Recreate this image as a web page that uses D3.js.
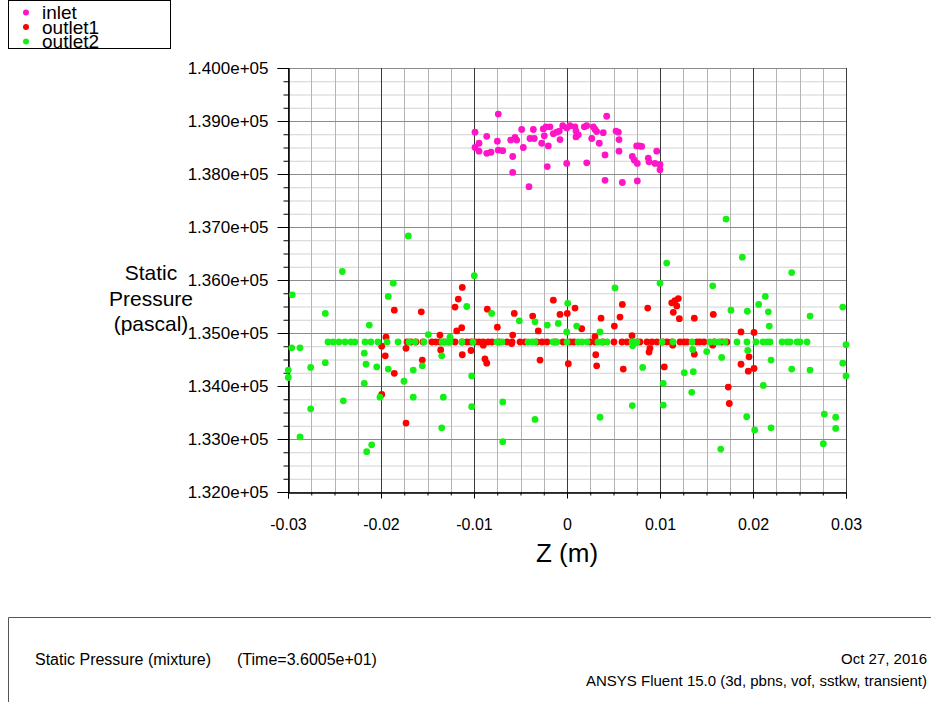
<!DOCTYPE html>
<html><head><meta charset="utf-8">
<script src="https://cdn.jsdelivr.net/npm/d3@7"></script>
<style>
body{margin:0;background:#fff;}
svg{display:block;font-family:"Liberation Sans",Arial,sans-serif;}
</style></head>
<body>
<svg id="chart" width="931" height="702"></svg>
<script>
// ---- data (Z in m, static pressure in Pa) ----
const seriesNames = ["inlet", "outlet1", "outlet2"];
const seriesColors = ["#ff14c8", "#ff0000", "#14f014"];

const inletZ = [-0.00989,-0.00739,-0.00989,-0.00946,-0.00946,-0.00863,-0.00863,-0.00817,-0.00749,-0.00739,-0.00691,-0.00584,-0.00584,-0.00605,-0.00559,-0.00541,-0.00487,-0.00470,-0.00409,-0.00398,-0.00362,-0.00352,-0.00272,-0.00255,-0.00244,-0.00226,-0.00201,-0.00212,-0.00183,-0.00147,-0.00111,-0.00083,-0.00075,-0.00046,-0.00003,-0.00003,0.00032,0.00086,0.00097,0.00122,0.00097,0.00186,0.00212,0.00212,0.00266,0.00283,0.00301,0.00319,0.00347,0.00390,0.00409,0.00427,0.00409,0.00527,0.00552,0.00559,0.00559,0.00595,0.00749,0.00777,0.00803,0.00702,0.00724,0.00756,0.00756,0.00874,0.00882,0.00965,0.00946,0.01000,0.01000];
const inletP = [138790,139130,138500,138580,138430,138710,138390,138410,138620,138450,138440,138330,138030,138640,138690,138640,138840,138500,137760,138670,138840,138670,138580,138850,138720,138890,138530,138140,138890,138760,138790,138810,138650,138910,138870,138200,138910,138890,138810,138740,138700,138890,138910,138210,138670,138890,138840,138800,138580,138780,138360,139090,137880,138810,138790,138650,138430,137840,138530,138530,138520,138330,138260,138200,137870,138300,138230,138430,138200,138180,138080];

const outlet1Z = [-0.01720,-0.01677,-0.01624,-0.01548,-0.01452,-0.01409,-0.01366,-0.01323,-0.01269,-0.01204,-0.01129,-0.01075,-0.01032,-0.00989,-0.00946,-0.00903,-0.00849,-0.00806,-0.00731,-0.00645,-0.00591,-0.00505,-0.00452,-0.00323,-0.00269,-0.00215,-0.00129,-0.00043,0.00032,0.00075,0.00247,0.00301,0.00387,0.00505,0.00591,0.00645,0.00753,0.00785,0.00860,0.00914,0.00968,0.01032,0.01075,0.01129,0.01215,0.01258,0.01290,0.01398,0.01430,0.01473,0.01581,0.01667,0.01720,
 -0.01126,-0.01169,-0.01204,-0.01857,-0.01567,-0.01186,-0.01132,-0.01366,-0.01992,-0.01731,-0.01946,-0.01954,-0.01857,-0.01556,-0.01358,-0.01126,-0.01032,-0.01992,-0.01731,-0.00857,-0.00749,-0.00567,-0.00369,-0.00309,-0.00147,-0.00075,0.00003,0.00086,0.00158,0.00366,0.00509,0.00570,0.00595,0.00868,0.00301,0.00699,-0.00584,-0.00900,-0.00595,-0.00882,-0.00863,-0.00290,0.00014,0.00309,0.00319,0.00605,0.00892,0.00882,0.01046,0.01197,0.01161,0.01126,0.01180,0.01143,0.01208,0.01369,0.01573,0.01871,0.02011,0.01369,0.01871,0.01957,0.01949,0.02011,0.01734,0.01745,0.01137,0.01567];
const outlet1P = [134830,134830,134830,134830,134830,134830,134830,134830,134830,134830,134830,134830,134830,134830,134830,134830,134830,134830,134830,134830,134830,134830,134830,134830,134830,134830,134830,134830,134830,134830,134830,134830,134830,134830,134830,134830,134830,134830,134830,134830,134830,134830,134830,134830,134830,134830,134830,134830,134830,134830,134830,134830,134830,
 135860,135640,135490,135430,135400,135040,135100,134960,134750,134710,134920,134570,134240,134490,134680,134590,134670,133840,133300,135450,135110,135370,135320,135040,135620,135350,135370,135470,135080,135280,135130,135300,135540,135470,134930,134950,134960,134770,134800,134510,134430,134490,134420,134590,134380,134320,134710,134640,134360,135650,135610,135570,135510,135390,135270,135280,135350,135020,135010,134600,134410,134550,134280,134330,133980,133670,134770,134770];

const outlet2Z = [-0.02570,-0.02516,-0.02452,-0.02387,-0.02323,-0.02280,-0.02172,-0.02108,-0.02032,-0.01935,-0.01817,-0.01699,-0.01634,-0.01538,-0.01344,-0.01301,-0.01258,-0.01129,-0.01011,-0.00753,-0.00699,-0.00419,-0.00376,-0.00344,-0.00151,-0.00108,0.00000,0.00118,0.00161,0.00215,0.00333,0.00376,0.00430,0.00699,0.00710,0.00753,0.01022,0.01140,0.01344,0.01538,0.01591,0.01634,0.01699,0.01828,0.01935,0.02032,0.02108,0.02151,0.02183,0.02312,0.02366,0.02398,0.02473,0.02505,0.02581,
 -0.02954,-0.01706,-0.02416,-0.01868,-0.01922,-0.02599,-0.02126,-0.00997,-0.01078,-0.01491,-0.01258,-0.02960,-0.02871,-0.02997,-0.02997,-0.02756,-0.02599,-0.02180,-0.02161,-0.02046,-0.02180,-0.01922,-0.01753,-0.01653,-0.01556,-0.01347,-0.01653,-0.01330,-0.01025,-0.01025,-0.02011,-0.02405,-0.02756,-0.02871,-0.01347,-0.02100,-0.02154,-0.00810,-0.00513,-0.00344,-0.00212,-0.00094,0.00008,-0.00003,0.00104,0.00355,0.00516,0.01000,0.01072,-0.00691,-0.00691,-0.00344,0.00355,0.00702,0.00814,0.01035,0.01035,0.00706,0.01710,0.01885,0.02416,0.01567,0.02132,0.02061,0.01763,0.01939,0.02165,0.02613,0.02965,0.02175,0.03000,0.01352,0.01502,0.01663,0.01943,0.02194,0.02416,0.02613,0.02965,0.03000,0.01261,0.01358,0.01341,0.02111,0.01932,0.02018,0.02194,0.02767,0.02889,0.02889,0.02756,0.01653];
const outlet2P = [134830,134830,134830,134830,134830,134830,134830,134830,134830,134830,134830,134830,134830,134830,134830,134830,134830,134830,134830,134830,134830,134830,134830,134830,134830,134830,134830,134830,134830,134830,134830,134830,134830,134830,134830,134830,134830,134830,134830,134830,134830,134830,134830,134830,134830,134830,134830,134830,134830,134830,134830,134830,134830,134830,134830,
 135720,136830,136160,135940,135690,135370,135150,136080,135500,134970,134920,134720,134720,134300,134160,134350,134440,134620,134410,134360,134050,134320,134090,134300,134380,134570,133790,133790,134190,133610,133790,133720,133570,133040,133210,132890,132760,135370,135230,135210,135150,135180,135560,135020,135130,135020,135850,135940,136320,133700,132950,133370,133410,133630,134350,134050,133640,134760,137150,136430,136140,135890,135690,135540,135430,135410,135400,135320,135490,135130,134780,134690,134650,134540,134670,134490,134320,134300,134430,134190,134250,134270,133880,134010,133420,133170,133210,133470,133410,133200,132910,132810];

const xTicks = [-0.03,-0.02,-0.01,0,0.01,0.02,0.03];
const yTicks = [132000,133000,134000,135000,136000,137000,138000,139000,140000];
const xLabel = "Z (m)";
const yLabelLines = ["Static", "Pressure", "(pascal)"];
const footerLeftParts = ["Static Pressure (mixture)", "(Time=3.6005e+01)"];
const footerDate = "Oct 27, 2016";
const footerProduct = "ANSYS Fluent 15.0 (3d, pbns, vof, sstkw, transient)";

// ---- drawing ----
const svg = d3.select("#chart");
const x = d3.scaleLinear().domain([-0.03, 0.03]).range([288, 846]);
const y = d3.scaleLinear().domain([132000, 140000]).range([492, 68]);

const xMinor = d3.range(-0.03, 0.03001, 0.0025).map(v => +v.toFixed(4));
const yMinor = d3.range(132000, 140001, 250);

const fmtY = v => { const s = d3.format(".3e")(v); return s.replace(/e([+-])(\d)$/, "e$10$2"); };
const fmtX = v => (v === 0 ? "0" : d3.format(".2f")(v).replace("\u2212", "-"));

const grid = svg.append("g");
// minor grid
grid.selectAll("line.hmin").data(yMinor).join("line")
  .attr("x1", x(-0.03)).attr("x2", x(0.03))
  .attr("y1", d => y(d) + 0.5).attr("y2", d => y(d) + 0.5)
  .attr("stroke", "#d2d2d2").attr("stroke-width", 1);
grid.selectAll("line.vmin").data(xMinor).join("line")
  .attr("y1", y(140000)).attr("y2", y(132000))
  .attr("x1", d => Math.round(x(d)) + 0.5).attr("x2", d => Math.round(x(d)) + 0.5)
  .attr("stroke", "#b4b4b4").attr("stroke-width", 1);
// major grid
grid.selectAll("line.hmaj").data(yTicks).join("line")
  .attr("x1", x(-0.03)).attr("x2", x(0.03))
  .attr("y1", d => y(d) + 0.5).attr("y2", d => y(d) + 0.5)
  .attr("stroke", "#8c8c8c").attr("stroke-width", 1);
grid.selectAll("line.vmaj").data(xTicks).join("line")
  .attr("y1", y(140000)).attr("y2", y(132000))
  .attr("x1", d => Math.round(x(d)) + 0.5).attr("x2", d => Math.round(x(d)) + 0.5)
  .attr("stroke", "#3a3a3a").attr("stroke-width", 1);

// axes
const yAxisMinor = d3.axisLeft(y).tickValues(yMinor).tickSize(5).tickFormat("");
const yAxis = d3.axisLeft(y).tickValues(yTicks).tickSize(11).tickPadding(9).tickFormat(fmtY);
const xAxisMinor = d3.axisBottom(x).tickValues(xMinor).tickSize(3).tickFormat("");
const xAxis = d3.axisBottom(x).tickValues(xTicks).tickSize(6).tickPadding(20).tickFormat(fmtX);

function styleAxis(size) {
  return g => {
    g.select(".domain").attr("stroke", "#000");
    g.selectAll(".tick line").attr("stroke", "#000");
    g.selectAll("text").attr("fill", "#000").style("font-size", size + "px")
      .style("font-family", '"Liberation Sans", Arial, sans-serif');
  };
}
svg.append("g").attr("transform", "translate(288.5,0)").call(yAxisMinor).call(styleAxis(16));
svg.append("g").attr("transform", "translate(288.5,0)").call(yAxis).call(styleAxis(17));
svg.append("g").attr("transform", "translate(0,492.5)").call(xAxisMinor).call(styleAxis(16));
svg.append("g").attr("transform", "translate(0,492.5)").call(xAxis).call(styleAxis(16));

// points
const series = [
  {name: seriesNames[0], color: seriesColors[0], z: inletZ, p: inletP},
  {name: seriesNames[1], color: seriesColors[1], z: outlet1Z, p: outlet1P},
  {name: seriesNames[2], color: seriesColors[2], z: outlet2Z, p: outlet2P}
];
series.forEach(s => {
  const pts = s.z.map((z, i) => ({z, p: s.p[i]}));
  svg.append("g").selectAll("circle").data(pts).join("circle")
    .attr("cx", d => x(d.z)).attr("cy", d => y(d.p)).attr("r", 3.4)
    .attr("fill", s.color);
});

// axis titles
svg.append("text").attr("x", x(0)).attr("y", 562).attr("text-anchor", "middle")
  .style("font-size", "26px").text(xLabel);
svg.append("g").selectAll("text").data(yLabelLines).join("text")
  .attr("x", 151).attr("y", (d, i) => 280 + i * 25.5).attr("text-anchor", "middle")
  .style("font-size", "21px").text(d => d);

// legend
const leg = svg.append("g");
leg.append("rect").attr("x", 8.5).attr("y", 0.5).attr("width", 162).attr("height", 48)
  .attr("fill", "#fff").attr("stroke", "#000");
leg.append("clipPath").attr("id", "legclip").append("rect")
  .attr("x", 9).attr("y", 1).attr("width", 161).attr("height", 47);
const legItems = leg.append("g").attr("clip-path", "url(#legclip)");
series.forEach((s, i) => {
  legItems.append("circle").attr("cx", 26).attr("cy", 12.5 + i * 14.5).attr("r", 3).attr("fill", s.color);
  legItems.append("text").attr("x", 42).attr("y", 19 + i * 14.5)
    .style("font-size", "19px").attr("fill", "#000").text(s.name);
});

// footer
svg.append("path").attr("d", "M8.5,702 V617.5 H931").attr("fill", "none").attr("stroke", "#555");
const fl = svg.append("text").attr("y", 665).style("font-size", "16px");
fl.append("tspan").attr("x", 35).text(footerLeftParts[0]);
fl.append("tspan").attr("x", 237).text(footerLeftParts[1]);
svg.append("text").attr("x", 927).attr("y", 664).attr("text-anchor", "end").style("font-size", "15px")
  .text(footerDate);
svg.append("text").attr("x", 927).attr("y", 686).attr("text-anchor", "end").style("font-size", "15px")
  .text(footerProduct);
</script>
</body></html>
